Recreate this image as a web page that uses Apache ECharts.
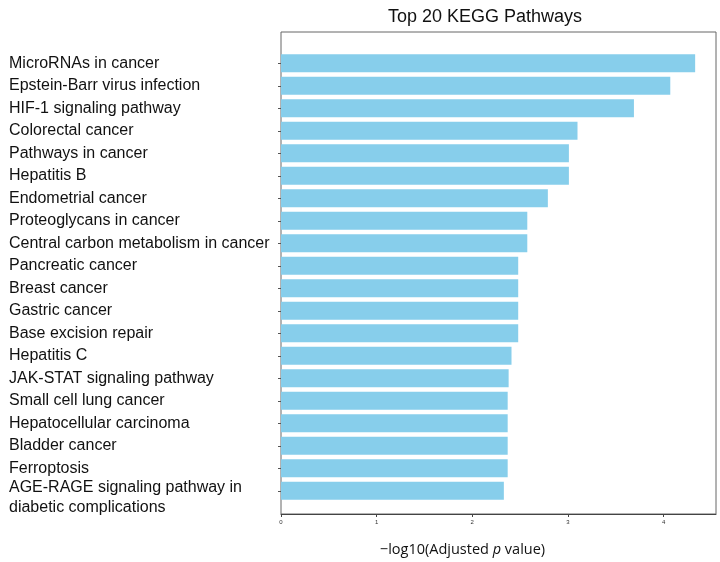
<!DOCTYPE html>
<html>
<head>
<meta charset="utf-8">
<script src="https://cdn.jsdelivr.net/npm/echarts@6/dist/echarts.min.js"></script>
<style>
  html, body { margin: 0; padding: 0; background: #fff; }
  #chart { width: 720px; height: 562px; }
</style>
</head>
<body>
<div id="chart"></div>
<script>
// pathways, top to bottom
const pathways = [
  'MicroRNAs in cancer',
  'Epstein-Barr virus infection',
  'HIF-1 signaling pathway',
  'Colorectal cancer',
  'Pathways in cancer',
  'Hepatitis B',
  'Endometrial cancer',
  'Proteoglycans in cancer',
  'Central carbon metabolism in cancer',
  'Pancreatic cancer',
  'Breast cancer',
  'Gastric cancer',
  'Base excision repair',
  'Hepatitis C',
  'JAK-STAT signaling pathway',
  'Small cell lung cancer',
  'Hepatocellular carcinoma',
  'Bladder cancer',
  'Ferroptosis',
  'AGE-RAGE signaling pathway in\ndiabetic complications'
]
const negLogP = [
  4.33, 4.07, 3.69, 3.10, 3.01, 3.01, 2.79, 2.575, 2.575, 2.48,
  2.48, 2.48, 2.48, 2.41, 2.38, 2.37, 2.37, 2.37, 2.37, 2.33
]
const xTicks = [0, 1, 2, 3, 4]

const X_MAX = 4.548
const font = '"Liberation Sans", Arial, Helvetica, sans-serif'

const chart = echarts.init(document.getElementById('chart'))

chart.setOption({
  animation: false,
  backgroundColor: '#fff',
  title: {
    text: 'Top 20 KEGG Pathways',
    left: 480,
    top: 3,
    textAlign: 'center',
    textStyle: { fontFamily: font, fontSize: 18, fontWeight: 'normal', color: '#111' }
  },
  grid: [
    // frame + x axis
    { left: 281, right: 4, top: 32, bottom: 40, show: true, borderColor: '#666', borderWidth: 1 },
    // bars
    { left: 281, right: 4, top: 52, height: 450 }
  ],
  xAxis: [
    {
      gridIndex: 0,
      type: 'value',
      min: 0,
      max: X_MAX,
      interval: 1,
      splitLine: { show: false },
      axisLine: { show: true, lineStyle: { color: '#444', width: 1 } },
      axisTick: { show: true, length: 3, lineStyle: { color: '#444' },
        customValues: xTicks },
      axisLabel: {
        customValues: xTicks,
        fontSize: 6, color: '#333', fontFamily: font, margin: 5
      },
      name: '−log10(Adjusted {i|p} value)',
      nameLocation: 'middle',
      nameGap: 28,
      nameTextStyle: {
        fontFamily: '"Open Sans", "Liberation Sans", sans-serif',
        fontSize: 14.5,
        color: '#111',
        padding: [0, 72, 0, 0],
        rich: { i: { fontStyle: 'italic', fontSize: 14.5, fontFamily: '"Open Sans", sans-serif', color: '#111' } }
      }
    },
    {
      gridIndex: 1,
      type: 'value',
      min: 0,
      max: X_MAX,
      show: false
    }
  ],
  yAxis: [
    { gridIndex: 0, type: 'value', show: false, splitLine: { show: false } },
    {
      gridIndex: 1,
      type: 'category',
      inverse: true,
      data: pathways,
      axisLine: { show: false },
      axisTick: { show: true, interval: 0, alignWithLabel: true, length: 3, lineStyle: { color: '#555' } },
      axisLabel: {
        interval: 0,
        hideOverlap: false,
        align: 'left',
        margin: 272,
        fontFamily: font,
        fontSize: 16,
        color: '#111',
        lineHeight: 20,
        formatter: (v, i) => i === pathways.length - 1 ? '{d|' + v.replace('\n', '}\n{d|') + '}' : v,
        rich: {
          d: { fontFamily: font, fontSize: 16, color: '#111', lineHeight: 20, padding: [14, 0, 0, 0] }
        }
      },
      splitLine: { show: false }
    }
  ],
  series: [{
    type: 'bar',
    xAxisIndex: 1,
    yAxisIndex: 1,
    data: negLogP,
    barWidth: 18,
    itemStyle: { color: '#87CEEB' }
  }]
})
</script>
</body>
</html>
